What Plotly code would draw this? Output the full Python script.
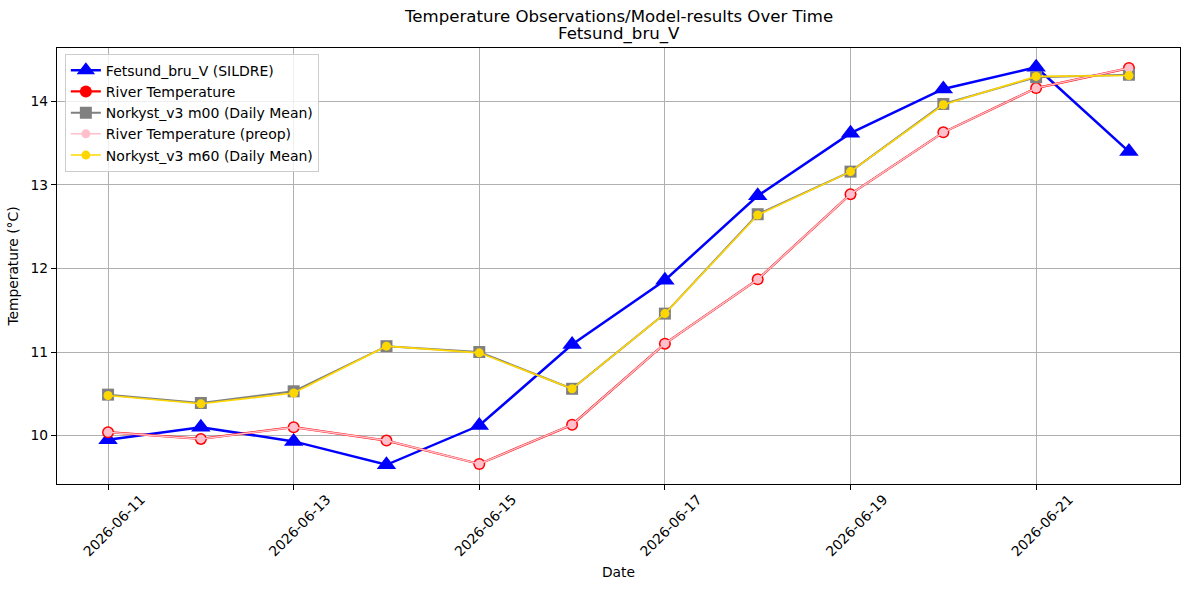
import plotly.graph_objects as go

dates = ["2026-06-11", "2026-06-12", "2026-06-13", "2026-06-14", "2026-06-15", "2026-06-16",
         "2026-06-17", "2026-06-18", "2026-06-19", "2026-06-20", "2026-06-21", "2026-06-22"]
sildre = [9.95, 10.10, 9.93, 9.65, 10.12, 11.09, 11.86, 12.87, 13.62, 14.15, 14.41, 13.40]
river = [10.04, 9.96, 10.10, 9.94, 9.66, 10.13, 11.10, 11.87, 12.89, 13.63, 14.16, 14.40]
river_preop = [10.04, 9.96, 10.10, 9.94, 9.66, 10.13, 11.10, 11.87, 12.89, 13.63, 14.16, 14.40]
m00 = [10.49, 10.39, 10.53, 11.07, 11.00, 10.56, 11.46, 12.65, 13.16, 13.97, 14.29, 14.32]
m60 = [10.48, 10.38, 10.51, 11.07, 10.99, 10.56, 11.46, 12.64, 13.16, 13.96, 14.30, 14.31]
tick_dates = ["2026-06-11", "2026-06-13", "2026-06-15", "2026-06-17", "2026-06-19", "2026-06-21"]
y_ticks = [10, 11, 12, 13, 14]
title_lines = ["Temperature Observations/Model-results Over Time", "Fetsund_bru_V"]

FONT = "DejaVu Sans"

fig = go.Figure()
fig.add_trace(go.Scatter(x=dates, y=sildre, mode="lines+markers", name="Fetsund_bru_V (SILDRE)",
                         line=dict(color="blue", width=2.5),
                         marker=dict(symbol="triangle-up", size=17, color="blue")))
fig.add_trace(go.Scatter(x=dates, y=river, mode="lines+markers", name="River Temperature",
                         line=dict(color="red", width=2.2),
                         marker=dict(symbol="circle", size=12, color="red")))
fig.add_trace(go.Scatter(x=dates, y=m00, mode="lines+markers", name="Norkyst_v3 m00 (Daily Mean)",
                         line=dict(color="gray", width=2),
                         marker=dict(symbol="square", size=12, color="gray")))
fig.add_trace(go.Scatter(x=dates, y=river_preop, mode="lines+markers", name="River Temperature (preop)",
                         line=dict(color="pink", width=1.5),
                         marker=dict(symbol="circle", size=9, color="pink")))
fig.add_trace(go.Scatter(x=dates, y=m60, mode="lines+markers", name="Norkyst_v3 m60 (Daily Mean)",
                         line=dict(color="gold", width=1.6),
                         marker=dict(symbol="circle", size=9, color="gold")))

for text, ypos in zip(title_lines, [1 + (48 - 17) / 436, 1 + (48 - 34) / 436]):
    fig.add_annotation(text=text, x=0.5, xref="paper", y=ypos, yref="paper",
                       xanchor="center", yanchor="middle", showarrow=False,
                       font=dict(family=FONT, size=16.6, color="black"))

fig.update_layout(
    width=1189, height=590,
    margin=dict(l=57, r=9, t=48, b=106),
    paper_bgcolor="white", plot_bgcolor="white",
    font=dict(family=FONT, size=13.8, color="black"),
    showlegend=True,
    legend=dict(x=0.007, y=0.987, xanchor="left", yanchor="top",
                bgcolor="rgba(255,255,255,0.8)", bordercolor="#cccccc", borderwidth=1,
                font=dict(family=FONT, size=14), itemwidth=30, tracegroupgap=0),
)
fig.update_xaxes(
    range=["2026-06-10 10:48", "2026-06-22 13:12"],
    tickvals=tick_dates, tickformat="%Y-%m-%d", tickangle=-45,
    ticks="outside", ticklen=5, tickcolor="black",
    showgrid=True, gridcolor="#b0b0b0", gridwidth=0.8,
    showline=True, linecolor="black", linewidth=1.2, mirror=True,
    zeroline=False, ticklabelshift=33, ticklabelstandoff=-4,
    tickfont=dict(family=FONT, size=13.8),
    title=dict(text="Date", font=dict(family=FONT, size=13.8), standoff=8),
)
fig.update_yaxes(
    range=[9.42, 14.64], tickvals=y_ticks,
    ticks="outside", ticklen=5, tickcolor="black",
    showgrid=True, gridcolor="#b0b0b0", gridwidth=0.8,
    showline=True, linecolor="black", linewidth=1.2, mirror=True,
    zeroline=False, tickfont=dict(family=FONT, size=13.8),
    title=dict(text="Temperature (°C)", font=dict(family=FONT, size=13.8), standoff=8),
)

fig.write_html("out.html")
